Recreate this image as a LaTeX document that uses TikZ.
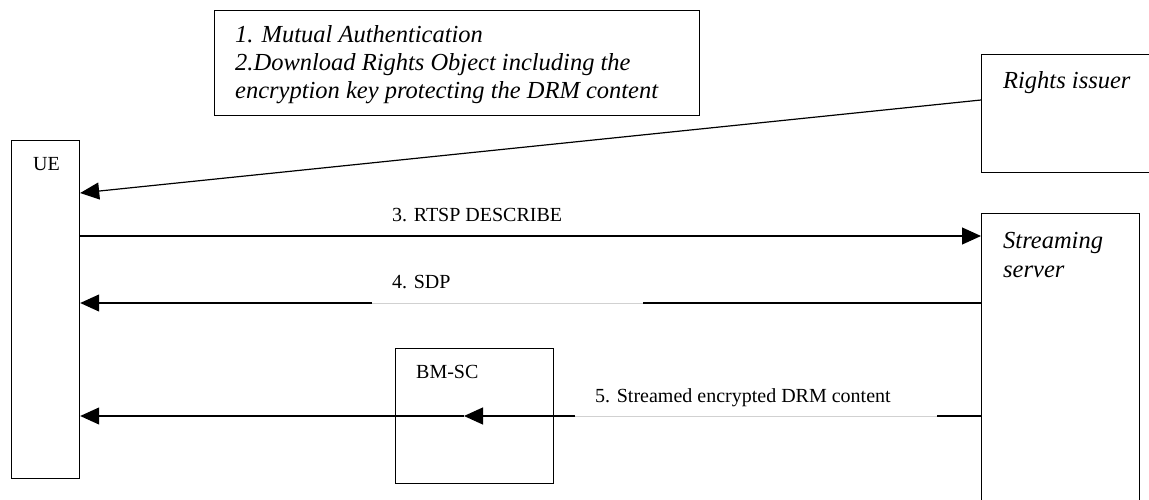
\documentclass[tikz,border=0pt]{standalone}
\usepackage{fontspec}
\setmainfont{Liberation Serif}
\usetikzlibrary{arrows.meta,calc}
\begin{document}
\begin{tikzpicture}[x=1pt,y=-1pt,
  box/.style={draw,line width=1.2pt,inner sep=0pt,anchor=north west},
  lbl/.style={inner sep=0pt,anchor=base west,font=\fontsize{20}{24}\selectfont},
  ilbl/.style={inner sep=0pt,anchor=base west,font=\fontsize{24.5}{28}\selectfont\itshape},
  ln/.style={line width=1.2pt},
  arr/.style={line width=1.2pt,-{Triangle[length=19pt,width=17pt]}},
  faint/.style={line width=0.6pt,black!18}]
\useasboundingbox (0,0) rectangle (1149,500);
% boxes
\node[box,minimum width=485,minimum height=105] (note) at (214,10) {};
\node[box,minimum width=176,minimum height=118] (ri) at (981,54) {};
\node[box,minimum width=158,minimum height=296] (ss) at (981,213) {};
\node[box,minimum width=68,minimum height=338] (ue) at (11,140) {};
\node[box,minimum width=158,minimum height=135] (bm) at (395,348) {};
% texts
\node[ilbl] (t1) at (235,43) {1. Mutual Authentication};
\node[ilbl] (t2) at (235,71) {2.Download Rights Object including the};
\node[ilbl] (t3) at (235,99) {encryption key protecting the DRM content};
\node[ilbl] (tri) at (1003,89) {Rights issuer};
\node[ilbl] (tss1) at (1003,248) {Streaming};
\node[ilbl] (tss2) at (1003,277) {server};
\node[lbl] (tue) at (33,171) {UE};
\node[lbl] (tbm) at (416,378) {BM-SC};
\node[lbl] (t3l) at (392,222) {3. RTSP DESCRIBE};
\node[lbl] (t4l) at (392,288) {4. SDP};
\node[lbl] (t5l) at (595,402) {5. Streamed encrypted DRM content};
% connectors
\draw[arr] ($(ri.north west)+(0,46)$) -- ($(ue.north east)+(0,53)$);
\draw[arr] ($(ue.north east)+(0,96)$) -- ($(ss.north west)+(0,23)$);
% 4. SDP
\coordinate (s4a) at (643,303);
\coordinate (s4b) at (372,303);
\draw[faint] (s4a) -- (s4b);
\draw[ln] ($(ss.north west)+(0,90)$) -- (s4a);
\draw[arr] (s4b) -- ($(ue.north east)+(0,163)$);
% 5. Streamed
\coordinate (s5a) at (937,416);
\coordinate (s5b) at (575,416);
\coordinate (s5m) at (464,416);
\draw[faint] (s5a) -- (s5b);
\draw[ln] ($(ss.north west)+(0,203)$) -- (s5a);
\draw[arr] (s5b) -- (s5m);
\draw[arr] (s5m) -- ($(ue.north east)+(0,276)$);
\end{tikzpicture}
\end{document}
